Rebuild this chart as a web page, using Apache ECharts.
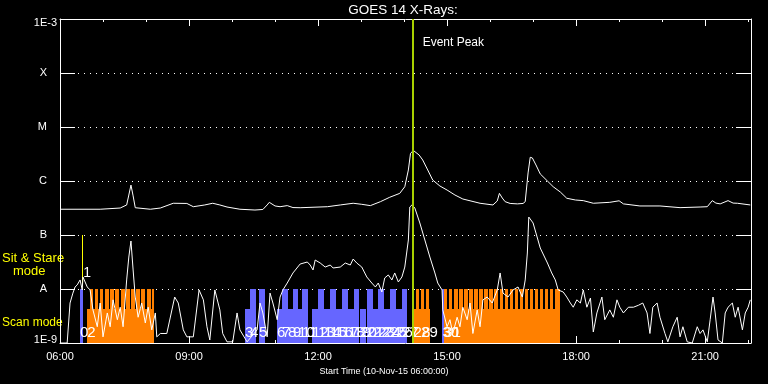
<!DOCTYPE html>
<html><head><meta charset="utf-8">
<script src="https://cdn.jsdelivr.net/npm/echarts@6/dist/echarts.min.js"></script>
<style>html,body{margin:0;padding:0;background:#000}#c{width:768px;height:384px}</style>
</head><body><div id="c"></div>
<script>
// ---------- text ----------
const TITLE = 'GOES 14 X-Rays:';
const X_TITLE = 'Start Time (10-Nov-15 06:00:00)';
const EVENT_TEXT = 'Event Peak';
const yTickLabels = ['1E-9', 'A', 'B', 'C', 'M', 'X', '1E-3'];
const xTickLabels = ['06:00', '09:00', '12:00', '15:00', '18:00', '21:00'];
const xRange = ['06:00', '22:04'];
const yRange = [1e-9, 1e-3];

// ---------- GOES long channel (1-8 A) ----------
const longTimes = ['06:00','06:56','07:24','07:33','07:36','07:39','07:42','07:45','08:06','08:20','08:38','08:57','09:06','09:22','09:33','09:43','09:53','10:11','10:32','10:43','10:49','10:52','11:00','11:07','11:17','11:25','11:35','12:13','12:31','12:49','13:01','13:13','13:27','13:40','13:54','14:01','14:06','14:09','14:13','14:15','14:21','14:26','14:33','14:40','14:50','15:00','15:11','15:22','15:46','16:04','16:10','16:13','16:17','16:21','16:28','16:38','16:46','16:49','16:53','16:56','16:59','17:04','17:10','17:20','17:28','17:38','17:47','17:59','18:10','18:24','18:47','19:00','19:06','19:29','19:57','20:25','20:53','21:03','21:10','21:15','21:21','21:32','21:39','21:45','22:03'];
const longFlux = [3.0e-7,3.0e-7,3.16e-7,3.6e-7,5.5e-7,8.4e-7,5.3e-7,3.2e-7,3.0e-7,3.16e-7,3.87e-7,3.84e-7,3.34e-7,3.6e-7,3.87e-7,3.6e-7,3.3e-7,3.0e-7,2.9e-7,2.97e-7,3.6e-7,4.03e-7,3.45e-7,3.34e-7,3.5e-7,3.22e-7,3.2e-7,3.34e-7,3.6e-7,3.87e-7,3.7e-7,3.5e-7,4.14e-7,5.0e-7,5.9e-7,7.84e-7,1.6e-6,3.26e-6,3.67e-6,3.6e-6,3.03e-6,2.45e-6,1.6e-6,1.04e-6,8.07e-7,6.8e-7,5.5e-7,4.64e-7,3.87e-7,3.6e-7,4.27e-7,5.9e-7,4.84e-7,4.14e-7,3.84e-7,3.77e-7,3.84e-7,4.14e-7,1.41e-6,2.75e-6,2.67e-6,1.98e-6,1.35e-6,1.0e-6,7.84e-7,6.25e-7,4.79e-7,4.45e-7,4.33e-7,3.87e-7,4.03e-7,4.3e-7,3.77e-7,3.45e-7,3.45e-7,3.21e-7,3.3e-7,3.34e-7,4.33e-7,3.9e-7,3.77e-7,4.33e-7,3.9e-7,3.87e-7,3.6e-7];

// ---------- GOES short channel (0.5-4 A) ----------
const shortTimes = ['06:00','06:10','06:14','06:18','06:21','06:24','06:28','06:31','06:32','06:38','06:42','06:46','06:52','06:56','07:00','07:06','07:10','07:14','07:20','07:24','07:28','07:33','07:36','07:39','07:42','07:45','07:49','07:54','07:59','08:03','08:08','08:13','08:15','08:20','08:29','08:40','08:45','08:52','08:57','09:06','09:14','09:20','09:25','09:29','09:36','09:43','09:47','09:53','10:01','10:07','10:11','10:21','10:35','10:39','10:43','10:49','10:53','10:57','11:03','11:07','11:11','11:17','11:25','11:35','11:45','11:49','11:53','11:56','12:03','12:10','12:17','12:21','12:31','12:38','12:45','12:49','12:54','13:01','13:08','13:15','13:20','13:24','13:29','13:33','13:38','13:43','13:47','13:52','13:57','14:01','14:06','14:08','14:11','14:15','14:22','14:29','14:36','14:43','14:47','14:53','14:54','15:00','15:04','15:08','15:14','15:18','15:22','15:28','15:32','15:36','15:42','15:46','15:50','15:56','16:03','16:10','16:14','16:18','16:25','16:32','16:39','16:45','16:49','16:52','16:54','17:00','17:10','17:20','17:26','17:31','17:35','17:42','17:47','17:52','17:56','18:01','18:06','18:10','18:15','18:20','18:24','18:29','18:36','18:40','18:47','18:52','18:57','19:01','19:06','19:13','19:20','19:27','19:33','19:39','19:43','19:47','19:53','19:57','20:04','20:08','20:15','20:21','20:25','20:29','20:35','20:42','20:49','20:53','20:57','21:03','21:07','21:11','21:14','21:18','21:24','21:28','21:32','21:38','21:42','21:46','21:52','21:56','22:00','22:03'];
const shortFlux = [1.0e-9,1.0e-9,5.5e-9,8.4e-9,1.09e-8,1.19e-8,1.47e-8,9.6e-9,1.67e-8,1.09e-8,9.6e-9,4.1e-9,2.0e-9,5.5e-9,1.3e-9,3.6e-9,2.0e-9,6.3e-9,2.7e-9,4.6e-9,2.0e-9,1.47e-8,3.91e-8,7.74e-8,2.25e-8,7.1e-9,3.0e-9,5.5e-9,2.35e-9,4.6e-9,1.75e-9,3.6e-9,1.3e-9,1.5e-9,1.5e-9,7.1e-9,5.5e-9,1.75e-9,1.3e-9,1.3e-9,9.6e-9,6.3e-9,2.0e-9,1.14e-9,9.6e-9,4.1e-9,1.5e-9,1.05e-9,1.05e-9,3.6e-9,1.75e-9,1.05e-9,1.75e-9,5.5e-9,3.6e-9,1.3e-9,8.4e-9,5.5e-9,2.7e-9,7.1e-9,9.6e-9,1.29e-8,1.98e-8,2.9e-8,3.16e-8,2.78e-8,2.25e-8,3.44e-8,3.03e-8,2.55e-8,2.78e-8,2.45e-8,2.55e-8,3.03e-8,2.78e-8,3.59e-8,3.03e-8,2.55e-8,1.67e-8,1.29e-8,1.09e-8,1.29e-8,8.8e-9,1.6e-8,1.82e-8,1.47e-8,1.98e-8,1.35e-8,1.67e-8,2.55e-8,8.08e-8,3.3e-7,3.6e-7,3.16e-7,1.67e-7,8.08e-8,3.91e-8,1.98e-8,1.29e-8,9.6e-9,4.1e-9,2.0e-9,2.7e-9,1.5e-9,3.0e-9,2.0e-9,4.6e-9,2.7e-9,5.5e-9,1.5e-9,4.1e-9,2.0e-9,6.3e-9,7.1e-9,5.5e-9,9.6e-9,1.98e-8,8.4e-9,7.1e-9,9.6e-9,1.09e-8,7.1e-9,1.47e-8,4.64e-8,2.15e-7,1.67e-7,5.74e-8,3.03e-8,1.98e-8,1.47e-8,9.6e-9,8.8e-9,7.1e-9,5.5e-9,4.6e-9,6.3e-9,5.5e-9,9.6e-9,4.6e-9,6.8e-9,1.6e-9,3.6e-9,7.1e-9,2.7e-9,4.1e-9,3.0e-9,6.3e-9,4.6e-9,3.6e-9,4.6e-9,4.6e-9,5.0e-9,5.5e-9,3.6e-9,1.5e-9,4.6e-9,5.5e-9,3.0e-9,1.5e-9,1.05e-9,2.0e-9,3.0e-9,1.3e-9,2.0e-9,1.05e-9,1.0e-9,2.0e-9,1.5e-9,1.75e-9,1.05e-9,2.7e-9,7.1e-9,3.6e-9,1.14e-9,1.0e-9,3.6e-9,4.6e-9,5.5e-9,3.0e-9,4.6e-9,1.75e-9,3.6e-9,4.6e-9,6.3e-9];

// ---------- observation timeline (decimal hours) ----------
const LEVEL_TALL = 1e-8;   // bar top for full-height marks
const LEVEL_LOW = 4.2e-9;  // bar top for low marks
const scanBlocks = [[6.635, 8.193], [14.221, 14.605], [14.930, 17.628]];
const scanSteps = [[6.698,6.767],[6.807,6.891],[6.930,7.007],[7.047,7.140],[7.170,7.256],[7.286,7.372],[7.412,7.505],[7.535,7.621],[7.658,7.744],[7.774,7.860],[7.891,7.984],[8.016,8.109],[8.133,8.193],
  [14.279,14.356],[14.395,14.472],[14.512,14.588],
  [14.930,15.009],[15.047,15.126],[15.165,15.244],[15.282,15.361],[15.399,15.478],[15.516,15.595],[15.633,15.713],[15.751,15.830],[15.868,15.947],[15.985,16.064],[16.102,16.181],[16.220,16.298],[16.337,16.416],[16.454,16.533],[16.571,16.650],[16.688,16.767],[16.806,16.885],[16.923,17.002],[17.040,17.119],[17.157,17.236],[17.274,17.353],[17.392,17.470],[17.509,17.628]];
const stareTall = [[6.465,6.528],[10.419,10.558],[10.628,10.767],[11.163,11.290],[11.419,11.535],[11.628,11.767],[12.000,12.128],[12.279,12.407],[12.558,12.686],[12.837,12.953],[13.140,13.267],[13.395,13.523],[13.674,13.802],[13.953,14.058],[14.891,14.930]];
const stareShort = [[10.302,10.419],[11.047,11.163],[11.302,11.407],[11.535,11.628],[11.860,11.988],[12.140,12.267],[12.419,12.546],[12.698,12.826],[12.977,13.116],[13.279,13.384],[13.535,13.663],[13.814,13.942]];
const obsLabels = [[6.465,'0'],[6.635,'2'],[10.302,'3'],[10.419,'4'],[10.628,'5'],[11.047,'6'],[11.163,'7'],[11.302,'8'],[11.419,'9'],[11.535,'10'],[11.628,'11'],[11.860,'12'],[12.000,'13'],[12.140,'14'],[12.279,'15'],[12.419,'16'],[12.558,'17'],[12.698,'18'],[12.837,'19'],[12.977,'20'],[13.140,'21'],[13.279,'22'],[13.395,'23'],[13.535,'24'],[13.674,'25'],[13.814,'26'],[13.953,'27'],[14.221,'28'],[14.395,'29'],[14.891,'30'],[14.930,'31']];
const LABEL_LEVEL = 1.56e-9;
const sitStare = [[6.52, 1.2e-8, 1e-7, '1']];
const SIT_LABEL_LEVEL = 1.94e-8;
const eventPeak = '14:12';
const EVENT_TEXT_LEVEL = 3.6e-4;

// ---------- build ----------
const FONT = "'Liberation Sans', Arial, sans-serif";
const toH = s => { const p = s.split(':').map(Number); return p[0] + p[1] / 60; };
const longData = longTimes.map((t, i) => [toH(t), longFlux[i]]);
const shortData = shortTimes.map((t, i) => [toH(t), shortFlux[i]]);

function rectSeries(name, pairs, level, color, z) {
  return {
    type: 'custom', name, silent: true, animation: false, clip: true, z,
    data: pairs.map(p => [p[0], p[1], level]),
    encode: { x: [0, 1], y: 2 },
    renderItem: (params, api) => {
      const a = api.coord([api.value(0), api.value(2)]);
      const b = api.coord([api.value(1), yRange[0]]);
      const x0 = Math.round(a[0]), x1 = Math.max(Math.round(b[0]), x0 + 1);
      const y0 = Math.round(a[1]), y1 = Math.round(b[1]);
      return { type: 'rect', shape: { x: x0, y: y0, width: x1 - x0, height: y1 - y0 }, style: { fill: color } };
    }
  };
}

const chart = echarts.init(document.getElementById('c'), null, { renderer: 'canvas' });
const axisWhite = { color: '#fff', width: 1 };
chart.setOption({
  backgroundColor: '#000',
  animation: false,
  grid: { left: 60, right: 17, top: 19, bottom: 41, containLabel: false },
  xAxis: [
    {
      type: 'value', min: toH(xRange[0]), max: toH(xRange[1]), interval: 3, position: 'bottom',
      axisLine: { show: true, lineStyle: axisWhite },
      axisTick: { show: true, inside: true, length: 7, lineStyle: axisWhite },
      minorTick: { show: true, splitNumber: 3, length: 3, lineStyle: axisWhite },
      splitLine: { show: false },
      axisLabel: { color: '#fff', fontSize: 11, fontFamily: FONT, margin: 8, showMaxLabel: false,
        formatter: v => xTickLabels[Math.round((v - 6) / 3)] || '' }
    },
    {
      type: 'value', min: toH(xRange[0]), max: toH(xRange[1]), interval: 3, position: 'top',
      axisLine: { show: true, lineStyle: axisWhite },
      axisTick: { show: true, inside: true, length: 7, lineStyle: axisWhite },
      minorTick: { show: true, splitNumber: 3, length: 3, lineStyle: axisWhite },
      splitLine: { show: false }, axisLabel: { show: false }
    }
  ],
  yAxis: [
    {
      type: 'log', logBase: 10, min: yRange[0], max: yRange[1], splitNumber: 6, position: 'left',
      axisLine: { show: true, lineStyle: axisWhite },
      axisTick: { show: true, inside: true, length: 15, lineStyle: axisWhite },
      minorTick: { show: false },
      splitLine: { show: true, lineStyle: { color: '#fff', width: 1, type: [1, 5] } },
      axisLabel: {
        color: '#fff', fontSize: 11, fontFamily: FONT, margin: 3, showMinLabel: true, showMaxLabel: true,
        formatter: v => {
          const i = Math.round(Math.log10(v)) + 9;
          const s = yTickLabels[i];
          if (i === 6) return '{t|' + s + '}';
          if (i === 0) return '{b|' + s + '}';
          return '{l|' + s + '}';
        },
        rich: {
          t: { padding: [8, 0, 0, 0], color: '#fff', fontSize: 11, fontFamily: FONT },
          b: { padding: [0, 0, 7, 0], color: '#fff', fontSize: 11, fontFamily: FONT },
          l: { padding: [0, 10, 0, 0], color: '#fff', fontSize: 11, fontFamily: FONT }
        }
      }
    },
    {
      type: 'log', logBase: 10, min: yRange[0], max: yRange[1], splitNumber: 6, position: 'right',
      axisLine: { show: true, lineStyle: axisWhite },
      axisTick: { show: true, inside: true, length: 15, lineStyle: axisWhite },
      splitLine: { show: false }, axisLabel: { show: false }
    }
  ],
  series: [
    rectSeries('scan blocks', scanBlocks, LEVEL_LOW, '#ff8000', 1),
    rectSeries('scan steps', scanSteps, LEVEL_TALL, '#ff8000', 1),
    rectSeries('stare tall', stareTall, LEVEL_TALL, '#6666ff', 1),
    rectSeries('stare short', stareShort, LEVEL_LOW, '#6666ff', 1),
    {
      type: 'custom', name: 'sit & stare marker', silent: true, animation: false, z: 2,
      data: sitStare.map(d => [d[0], d[1], d[2]]),
      encode: { x: 0, y: [1, 2] },
      renderItem: (params, api) => {
        const a = api.coord([api.value(0), api.value(1)]);
        const b = api.coord([api.value(0), api.value(2)]);
        const l = api.coord([api.value(0), SIT_LABEL_LEVEL]);
        return { type: 'group', children: [
          { type: 'line', shape: { x1: Math.round(a[0]) + 0.5, y1: a[1], x2: Math.round(a[0]) + 0.5, y2: b[1] }, style: { stroke: '#ffff00', lineWidth: 1 } },
          { type: 'text', x: l[0] + 1, y: l[1], style: { text: sitStare[params.dataIndex][3], fill: '#fff', font: '14px ' + FONT, align: 'left', verticalAlign: 'middle' } }
        ] };
      }
    },
    {
      type: 'custom', name: 'observation labels', silent: true, animation: false, z: 3,
      data: obsLabels.map(d => [d[0], LABEL_LEVEL]),
      encode: { x: 0, y: 1 },
      renderItem: (params, api) => {
        const c = api.coord([api.value(0), api.value(1)]);
        return { type: 'text', x: c[0], y: c[1], style: { text: obsLabels[params.dataIndex][1], fill: '#fff', font: '15px ' + FONT, align: 'left', verticalAlign: 'middle' } };
      }
    },
    { type: 'line', name: 'long', data: longData, showSymbol: false, symbol: 'none', silent: true, z: 4,
      lineStyle: { color: '#fff', width: 1 }, animation: false },
    { type: 'line', name: 'short', data: shortData, showSymbol: false, symbol: 'none', silent: true, z: 4,
      lineStyle: { color: '#fff', width: 1 }, animation: false },
    {
      type: 'custom', name: 'event peak', silent: true, animation: false, z: 5,
      data: [[toH(eventPeak), yRange[1]]],
      encode: { x: 0, y: 1 },
      renderItem: (params, api) => {
        const t = api.coord([api.value(0), yRange[1]]);
        const b = api.coord([api.value(0), yRange[0]]);
        const l = api.coord([api.value(0), EVENT_TEXT_LEVEL]);
        const x = Math.round(t[0]);
        return { type: 'group', children: [
          { type: 'line', shape: { x1: x, y1: t[1], x2: x, y2: b[1] }, style: { stroke: '#a8d000', lineWidth: 2 } },
          { type: 'text', x: l[0] + 10, y: l[1], style: { text: EVENT_TEXT, fill: '#fff', font: '12px ' + FONT, align: 'left', verticalAlign: 'middle' } }
        ] };
      }
    }
  ],
  graphic: [
    { type: 'text', x: 403, y: 10, style: { text: TITLE, fill: '#fff', font: '13.5px ' + FONT, align: 'center', verticalAlign: 'middle' } },
    { type: 'text', x: 384, y: 372, style: { text: X_TITLE, fill: '#fff', font: '9px ' + FONT, align: 'center', verticalAlign: 'middle' } },
    { type: 'text', x: 2, y: 258, style: { text: 'Sit & Stare', fill: '#ffff00', font: '13px ' + FONT, align: 'left', verticalAlign: 'middle' } },
    { type: 'text', x: 13, y: 271, style: { text: 'mode', fill: '#ffff00', font: '13px ' + FONT, align: 'left', verticalAlign: 'middle' } },
    { type: 'text', x: 2, y: 323, style: { text: 'Scan mode', fill: '#ffff00', font: '12px ' + FONT, align: 'left', verticalAlign: 'middle' } }
  ]
});
</script>
</body></html>
